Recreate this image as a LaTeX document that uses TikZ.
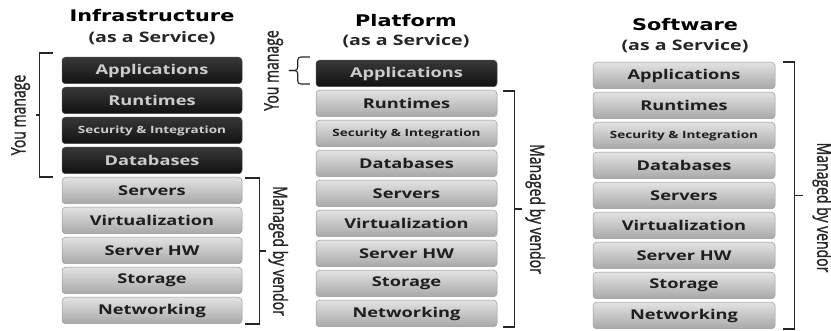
\documentclass[tikz,border=0pt]{standalone}
\usepackage{fontspec}
\setmainfont{Open Sans}
\newfontfamily\boxfont[FakeStretch=1.35]{Open Sans}
\newfontfamily\headfont[FakeStretch=1.3]{DejaVu Sans}
\newfontfamily\sidefont[FakeBold=1.6]{Open Sans}
\usetikzlibrary{calc}

\definecolor{owntop}{HTML}{383838}
\definecolor{ownbot}{HTML}{111111}
\definecolor{ownedge}{HTML}{4A4A4A}
\definecolor{owntext}{HTML}{CDCDCD}
\definecolor{vtop}{HTML}{E2E2E2}
\definecolor{vbot}{HTML}{A8A8A8}
\definecolor{vedge}{HTML}{999999}
\definecolor{vtext}{HTML}{1E1E1E}
\definecolor{ink}{HTML}{262626}

% one service model: nine layers, the first #4 of them managed by the customer
\newcommand\layerstack[5]{%
  \foreach \lbl [count=\k] in {Applications,Runtimes,{Security \& Integration},Databases,Servers,Virtualization,Server HW,Storage,Networking}{%
    \ifnum\k>#4\relax
      \def\tc{vtop}\def\bc{vbot}\def\ec{vedge}\def\fc{vtext}%
    \else
      \def\tc{owntop}\def\bc{ownbot}\def\ec{ownedge}\def\fc{owntext}%
    \fi
    \ifnum\k=3\relax\def\fs{\fontsize{10}{12}}\else\def\fs{\fontsize{13.5}{15}}\fi
    \node[layer, minimum width=#5, top color=\tc, bottom color=\bc, draw=\ec,
          text=\fc, font=\boxfont\fs\selectfont\bfseries]
      (#1\k) at (#2,{-(#3)-30*(\k-1)}) {\lbl};
  }}

\begin{document}
\begin{tikzpicture}[x=1pt,y=1pt,
  layer/.style={rounded corners=3.5pt, minimum height=26.5pt, inner sep=0pt,
                anchor=north, line width=0.5pt},
  head/.style={anchor=base, inner sep=0pt, text=black,
               font=\headfont\bfseries\fontsize{16}{18}\selectfont},
  sub/.style={anchor=base, inner sep=0pt, text=black!85,
              font=\boxfont\bfseries\fontsize{14.5}{16}\selectfont},
  brk/.style={draw=ink, line width=1.1pt},
  side/.style={inner sep=0pt, text=ink, font=\sidefont\fontsize{14}{16}\selectfont}]
\useasboundingbox (0,0) rectangle (831,-331);

% the three layer stacks
\layerstack{i}{152}{57}{4}{180pt}
\layerstack{p}{406.5}{60}{1}{181pt}
\layerstack{s}{684}{62}{0}{182pt}

% headings
\node[head] (ti) at (152,-22) {Infrastructure};
\node[sub]  (si) at (152,-43) {(as a Service)};
\node[head] (tp) at (406,-27) {Platform};
\node[sub]  (sp) at (406,-46) {(as a Service)};
\node[head] (ts) at (685,-31) {Software};
\node[sub]  (ss) at (685,-51) {(as a Service)};

% IaaS: customer part
\coordinate (ia) at ([xshift=-9pt,yshift=4pt]i1.north west);
\coordinate (ib) at ([xshift=-9pt,yshift=-3pt]i4.south west);
\draw[brk] (ia) -- ++(-13,0) |- (ib);
\draw[brk] ($(ia)!0.5!(ib)+(-13,0)$) -- ++(-4,0);
\node[side, rotate=90] (iy) at ($(ia)!0.5!(ib)+(-32,0)$) {\scalebox{1}[1.4]{You manage}};

% IaaS: vendor part
\coordinate (iv1) at ([xshift=3pt,yshift=-1pt]i5.north east);
\coordinate (iv2) at ([xshift=3pt]i9.south east);
\draw[brk] (iv1) -- ++(14,0) |- (iv2);
\draw[brk] ($(iv1)!0.5!(iv2)+(14,0)$) -- ++(7,0);
\node[side, rotate=-90] (iv) at ($(iv1)!0.5!(iv2)+(33,0)$) {\scalebox{1}[1.4]{Managed by vendor}};

% PaaS: customer part (small brace)
\coordinate (pa) at ([xshift=-6pt,yshift=3pt]p1.north west);
\coordinate (pb) at ([xshift=-6pt,yshift=3pt]p1.south west);
\draw[brk, rounded corners=3pt] (pa) -- ++(-12,0) |- ($(pa)!0.5!(pb)+(-21,0)$);
\draw[brk, rounded corners=3pt] (pb) -- ++(-12,0) |- ($(pa)!0.5!(pb)+(-21,0)$);
\node[side, rotate=90] (py) at ($(pa)!0.5!(pb)+(-36,0)$) {\scalebox{1}[1.4]{You manage}};

% PaaS: vendor part
\coordinate (pv1) at ([xshift=6pt,yshift=-1pt]p2.north east);
\coordinate (pv2) at ([xshift=6pt]p9.south east);
\draw[brk] (pv1) -- ++(11,0) |- (pv2);
\draw[brk] ($(pv1)!0.5!(pv2)+(11,0)$) -- ++(8,0);
\node[side, rotate=-90] (pv) at ($(pv1)!0.5!(pv2)+(32,0)$) {\scalebox{1}[1.4]{Managed by vendor}};

% SaaS: everything by the vendor
\coordinate (sv1) at ([xshift=8pt]s1.north east);
\coordinate (sv2) at ([xshift=8pt]s9.south east);
\draw[brk] (sv1) -- ++(11,0) |- (sv2);
\draw[brk] ($(sv1)!0.5!(sv2)+(11,0)$) -- ++(9,0);
\node[side, rotate=-90] (sv) at ($(sv1)!0.5!(sv2)+(39,-12)$) {\scalebox{1}[1.4]{Managed by vendor}};
\end{tikzpicture}
\end{document}
